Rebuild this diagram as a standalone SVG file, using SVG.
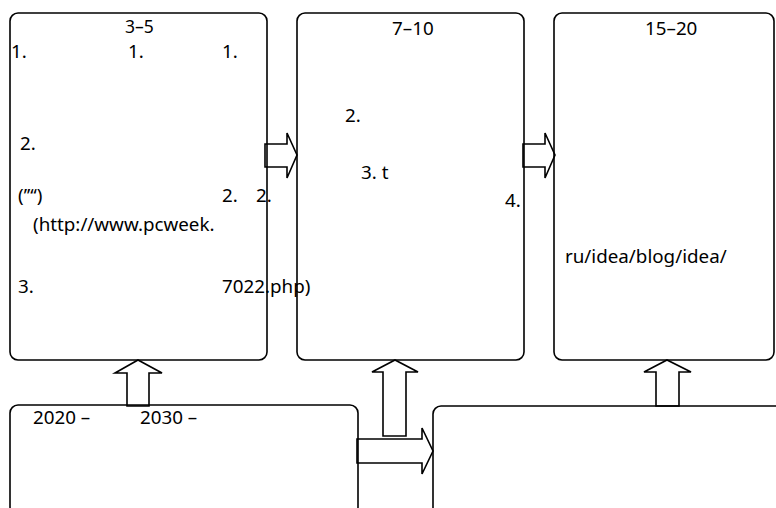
<svg xmlns="http://www.w3.org/2000/svg" width="776" height="508" viewBox="0 0 776 508">
<style>
.box{fill:none;stroke:#000;stroke-width:1.6}
.arr{fill:#fff;stroke:#000;stroke-width:1.6;stroke-linejoin:miter}
text{font-family:"Noto Sans","Open Sans","DejaVu Sans",sans-serif;font-size:18.8px;fill:#000}
</style>
<rect width="776" height="508" fill="#fff"/>
<g id="connectors">
<path class="arr" d="M265,144 H287 V133 L297,155 L287,178 V167 H265 Z"/>
<path class="arr" d="M523,144 H545 V133 L555,155 L545,178 V167 H523 Z"/>
<path class="arr" d="M127,406 V373 H115 L138,360 L162,373 H149 V406 Z"/>
<path class="arr" d="M383,436 V372 H372 L395,360 L418,372 H406 V436 Z"/>
<path class="arr" d="M357,439 H422 V428 L433,451 L422,474 V463 H357 Z"/>
<path class="arr" d="M656,406 V372 H644 L667,360 L691,372 H679 V406 Z"/>
</g>
<g id="node-a">
<rect class="box" x="10" y="13" width="257" height="347" rx="8"/>
<text x="125" y="33" style="font-size:17.5px">3–5</text>
<text x="11" y="58">1.</text>
<text x="128" y="58">1.</text>
<text x="222" y="58">1.</text>
<text x="20" y="150">2.</text>
<text x="222" y="202">2.</text>
<text x="18" y="202">(’’‘‘)</text>
<text x="33" y="231">(http://www.pcweek.</text>
<text x="18" y="293">3.</text>
<text x="222" y="293">7022.php)</text>
</g>
<g id="node-b">
<rect class="box" x="297" y="13" width="227" height="347" rx="8"/>
<text x="392" y="35">7–10</text>
<text x="345" y="122">2.</text>
<text x="361" y="179">3. t</text>
<text x="256" y="202">2.</text>
<text x="505" y="207">4.</text>
</g>
<g id="node-c">
<rect class="box" x="554" y="13" width="220" height="347" rx="8"/>
<text x="645" y="35">15–20</text>
<text x="565" y="263">ru/idea/blog/idea/</text>
</g>
<g id="node-d">
<rect class="box" x="10" y="405" width="348" height="110" rx="8"/>
<text x="33" y="424">2020 –</text>
<text x="140" y="424">2030 –</text>
</g>
<g id="node-e">
<rect class="box" x="433" y="406" width="350" height="110" rx="8"/>
</g>
</svg>
